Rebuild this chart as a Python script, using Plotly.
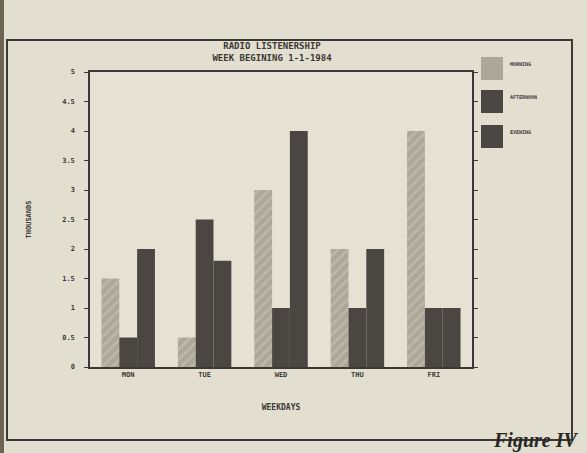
import plotly.graph_objects as go

# ---- data ----
days = ["MON", "TUE", "WED", "THU", "FRI"]
morning = [1.5, 0.5, 3.0, 2.0, 4.0]
afternoon = [0.5, 2.5, 1.0, 1.0, 1.0]
evening = [2.0, 1.8, 4.0, 2.0, 1.0]
series_names = ["MORNING", "AFTERNOON", "EVENING"]
y_ticks = [0, 0.5, 1, 1.5, 2, 2.5, 3, 3.5, 4, 4.5, 5]
y_ticktext = ["0", "0.5", "1", "1.5", "2", "2.5", "3", "3.5", "4", "4.5", "5"]

# ---- style ----
W, H = 587, 453
ML, MR, MT, MB = 90, 115, 72, 86
PW, PH = W - ML - MR, H - MT - MB
PAPER = "#e2ded0"
INK = "#3b3934"
LIGHT = "#aba799"
DARK = "#4a4742"
MONO = "DejaVu Sans Mono"


def px_x(p):
    return (p - ML) / PW


def px_y(p):
    return (H - MB - p) / PH


fig = go.Figure()
fills = [LIGHT, DARK, DARK]
for name, vals, col in zip(series_names, [morning, afternoon, evening], fills):
    marker = dict(color=col, line=dict(width=0))
    if col == LIGHT:
        marker["pattern"] = dict(shape="/", fgcolor="#cdc9bb", bgcolor=LIGHT,
                                 size=7, solidity=0.35)
    fig.add_trace(go.Bar(x=days, y=vals, name=name, marker=marker,
                         showlegend=False))

axis_font = dict(family=MONO, size=7, color=INK, weight="bold")

fig.update_layout(
    width=W, height=H,
    margin=dict(l=ML, r=MR, t=MT, b=MB),
    paper_bgcolor=PAPER, plot_bgcolor="#e5e1d3",
    barmode="group", bargap=0.3, bargroupgap=0,
    title=dict(text="RADIO LISTENERSHIP<br>WEEK BEGINING 1-1-1984",
               x=272 / W, xanchor="center", y=1 - 49 / H, yanchor="top",
               font=dict(family=MONO, size=9, color=INK, weight="bold")),
    xaxis=dict(showline=True, linecolor=INK, linewidth=1.5, mirror=True,
               ticks="", tickfont=axis_font, showgrid=False,
               title=dict(text="WEEKDAYS", standoff=26,
                          font=dict(family=MONO, size=8, color=INK, weight="bold"))),
    yaxis=dict(range=[0, 5], tickvals=y_ticks, ticktext=y_ticktext,
               showline=True, linecolor=INK, linewidth=1.5, mirror="ticks",
               ticks="outside", ticklen=4, tickwidth=1, tickcolor=INK,
               ticklabelstandoff=8,
               tickfont=axis_font, showgrid=False, zeroline=False,
               title=dict(text="THOUSANDS", standoff=30,
                          font=dict(family=MONO, size=7, color=INK, weight="bold"))),
)

# outer frame of the printed figure
fig.add_shape(type="rect", xref="paper", yref="paper",
              x0=px_x(7), x1=px_x(572), y0=px_y(440), y1=px_y(40),
              line=dict(color=INK, width=2), fillcolor="rgba(0,0,0,0)", layer="below")
# dark photo edge at the left
fig.add_shape(type="rect", xref="paper", yref="paper",
              x0=px_x(0), x1=px_x(4), y0=px_y(453), y1=px_y(0),
              line=dict(width=0), fillcolor="#6b6453", layer="below")

# legend drawn as large swatches like the original
sw_top = [57, 90, 125]
for i, (name, col) in enumerate(zip(series_names, fills)):
    top = sw_top[i]
    fig.add_shape(type="rect", xref="paper", yref="paper",
                  x0=px_x(481), x1=px_x(503), y0=px_y(top + 23), y1=px_y(top),
                  line=dict(width=0), fillcolor=col)
    fig.add_annotation(xref="paper", yref="paper", x=px_x(508), y=px_y(top + 2),
                       xanchor="left", yanchor="top", showarrow=False,
                       text=name,
                       font=dict(family=MONO, size=5, color=INK, weight="bold"))

# caption
fig.add_annotation(xref="paper", yref="paper", x=px_x(580), y=px_y(427),
                   xanchor="right", yanchor="top", showarrow=False,
                   text="<i>Figure IV</i>",
                   font=dict(family="Liberation Serif", size=20, color="#2a2826",
                             weight="bold"))

fig.write_html("out.html",
               config={"displayModeBar": False},
               post_script="document.body.style.margin='0';"
                           "document.documentElement.style.background='%s';" % PAPER)
